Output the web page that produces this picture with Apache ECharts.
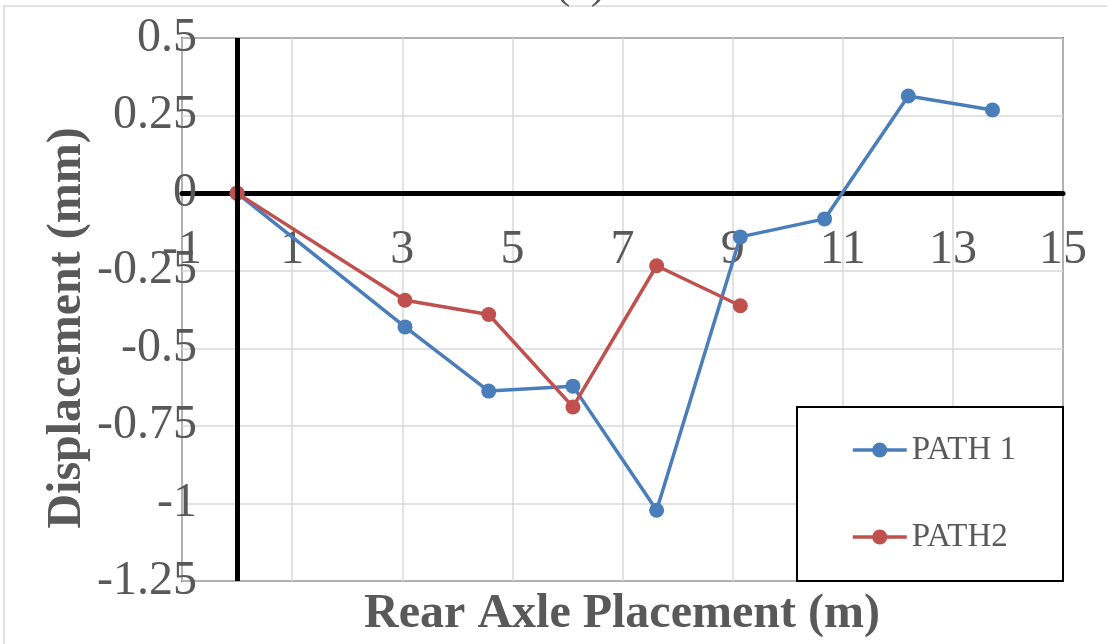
<!DOCTYPE html>
<html>
<head>
<meta charset="utf-8">
<script src="https://cdn.jsdelivr.net/npm/echarts@6/dist/echarts.min.js"></script>
<style>
  html, body { margin: 0; padding: 0; background: #fff; }
  #chart { width: 1107px; height: 644px; }
</style>
</head>
<body>
<div id="chart"></div>
<script>
// rear axle positions (m)
var path1X = [0, 3.05, 4.57, 6.1, 7.62, 9.14, 10.67, 12.19, 13.72];
var path1Y = [0, -0.431, -0.638, -0.622, -1.022, -0.141, -0.083, 0.313, 0.268];
var path2X = [0, 3.05, 4.57, 6.1, 7.62, 9.14];
var path2Y = [0, -0.345, -0.391, -0.689, -0.234, -0.363];
var xTicks = { min: -1, max: 15, step: 2 };
var yTicks = { min: -1.25, max: 0.5, step: 0.25 };

function pairs(xs, ys) {
  return xs.map(function (x, i) { return [x, ys[i]] })
}

var serif = 'Liberation Serif';
var grey = '#595959';

var chart = echarts.init(document.getElementById('chart'));
chart.setOption({
  animation: false,
  backgroundColor: '#fff',
  grid: {
    left: 182, right: 44, top: 38, bottom: 63,
    outerBoundsMode: 'none',
    show: true,
    borderColor: '#000',
    borderWidth: 1.5,
    backgroundColor: 'transparent'
  },
  legend: {
    orient: 'vertical',
    left: 851,
    top: 433,
    padding: 0,
    z: 20,
    itemWidth: 54,
    itemHeight: 19,
    itemGap: 53,
    lineStyle: { width: 3.5 },
    textStyle: { fontFamily: serif, fontSize: 33, color: grey, lineHeight: 34 },
    data: ['PATH 1', 'PATH2']
  },
  xAxis: {
    type: 'value',
    min: xTicks.min,
    max: xTicks.max,
    interval: xTicks.step,
    position: 'bottom',
    offset: -388, // axis sits on y = 0
    axisLine: { onZero: false, lineStyle: { color: '#000', width: 5 } },
    axisTick: { show: false },
    axisLabel: { fontFamily: serif, fontSize: 48, color: grey, margin: 33, showMinLabel: true, showMaxLabel: true },
    splitLine: { lineStyle: { color: '#d9d9d9', width: 1.5 } }
  },
  yAxis: {
    type: 'value',
    min: yTicks.min,
    max: yTicks.max,
    interval: yTicks.step,
    axisLine: { show: false, onZero: false },
    axisTick: { show: false },
    axisLabel: { fontFamily: serif, fontSize: 48, color: grey, margin: -15 },
    splitLine: { lineStyle: { color: '#d9d9d9', width: 1.5 } }
  },
  graphic: [
    { type: 'rect', z: 0, silent: true,
      shape: { x: 4, y: 6, width: 1200, height: 700 },
      style: { fill: 'none', stroke: '#d9d9d9', lineWidth: 1.5 } },
    { type: 'text', z: 0, left: 555, top: -38,
      style: { text: '(a)', font: '46px "Liberation Serif"', fill: grey } },
    { type: 'rect', z: 10, silent: true,
      shape: { x: 797, y: 407, width: 266, height: 174 },
      style: { fill: '#fff', stroke: '#000', lineWidth: 2 } },
    { type: 'text', z: 10,
      x: 622, y: 615,
      style: { text: 'Rear Axle Placement (m)', font: 'bold 48px "Liberation Serif"', fill: grey,
               align: 'center', verticalAlign: 'middle' } },
    { type: 'text', z: 10,
      x: 68, y: 328, rotation: Math.PI / 2,
      style: { text: 'Displacement (mm)', font: 'bold 48px "Liberation Serif"', fill: grey,
               align: 'center', verticalAlign: 'middle' } }
  ],
  series: [
    {
      name: 'PATH 1',
      type: 'line',
      data: pairs(path1X, path1Y),
      symbol: 'circle',
      symbolSize: 15,
      itemStyle: { color: '#4a7ebb' },
      lineStyle: { color: '#4a7ebb', width: 3.5 },
      markLine: {
        silent: true,
        symbol: 'none',
        label: { show: false },
        lineStyle: { color: '#000', width: 5, type: 'solid' },
        data: [{ xAxis: 0 }]
      }
    },
    {
      name: 'PATH2',
      type: 'line',
      data: pairs(path2X, path2Y),
      symbol: 'circle',
      symbolSize: 15,
      itemStyle: { color: '#c0504d' },
      lineStyle: { color: '#c0504d', width: 3.5 }
    }
  ]
});
</script>
</body>
</html>
